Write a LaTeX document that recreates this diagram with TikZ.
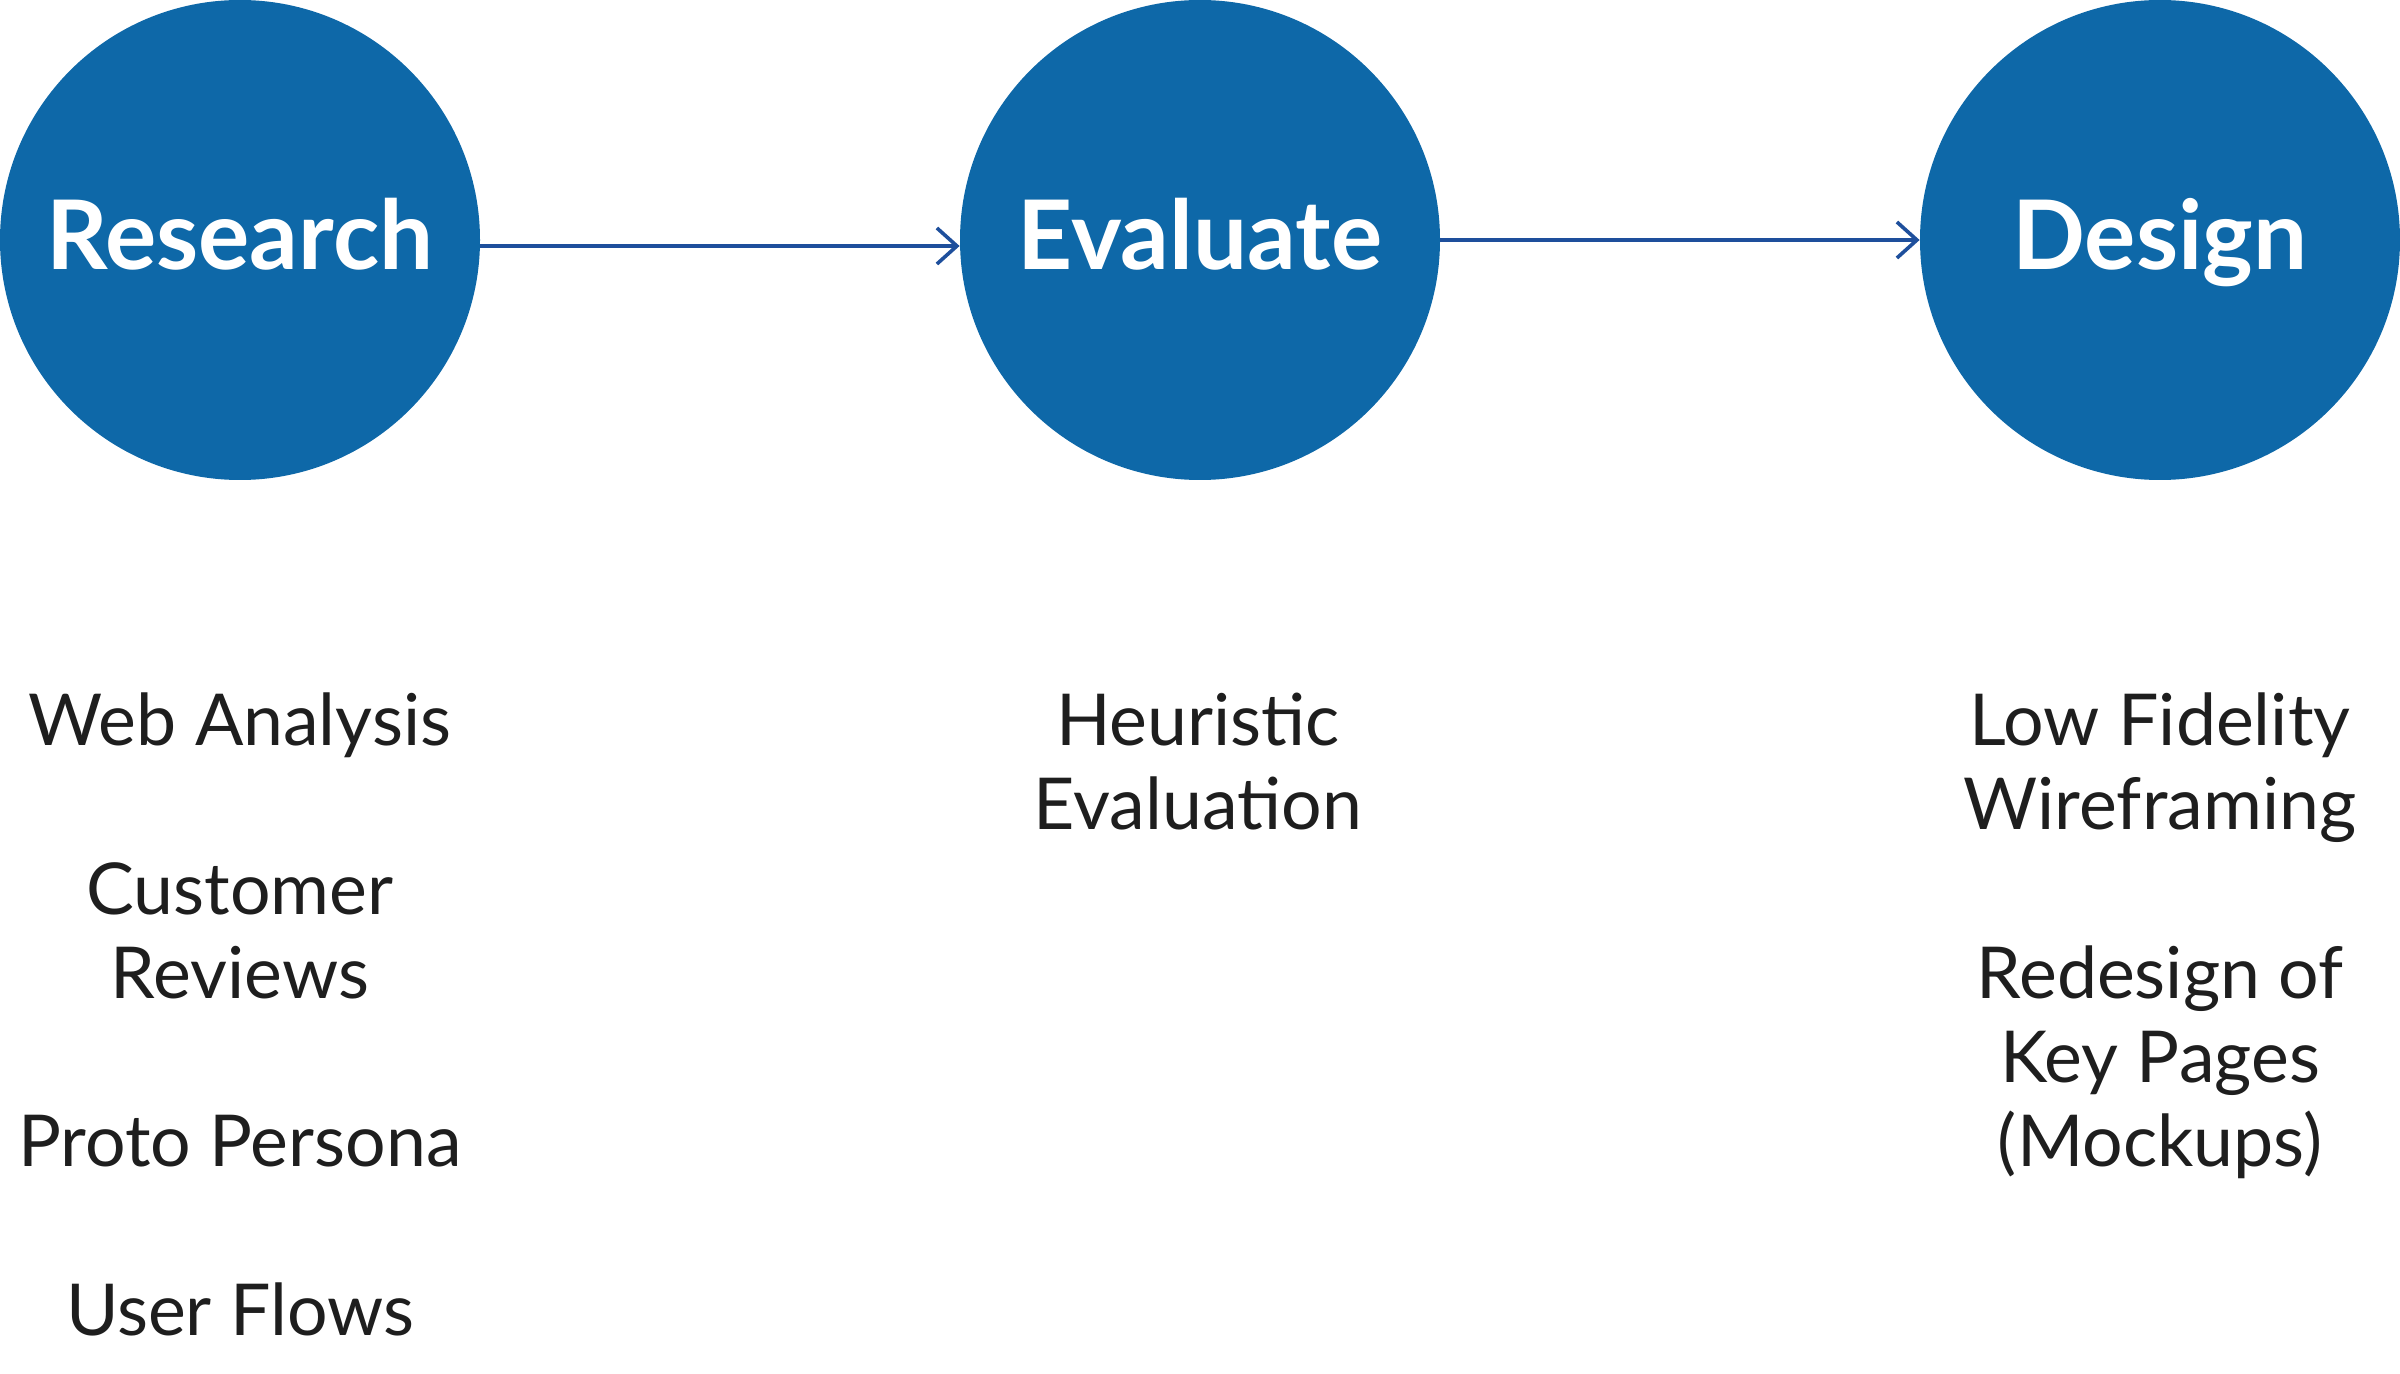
\documentclass[tikz,border=0pt]{standalone}
\usepackage{fontspec}
\setmainfont{Lato}
\usetikzlibrary{arrows.meta}
\definecolor{circblue}{HTML}{0E68A8}
\definecolor{arrblue}{HTML}{1E4F9C}
\definecolor{txt}{HTML}{1E1E1E}
\begin{document}
\begin{tikzpicture}[x=0.5pt,y=-0.5pt,
  stage/.style={circle,fill=circblue,minimum size=240pt,inner sep=0pt,text=white,
    font=\fontsize{48pt}{50pt}\selectfont\bfseries,text height=30pt,text depth=0pt},
  item/.style={anchor=base,text=txt,inner sep=0pt,font=\fontsize{35.8pt}{42pt}\selectfont},
  flow/.style={draw=arrblue,line width=1.8pt,-{Straight Barb[length=10pt,width=18pt,line width=1.8pt]}}]
\useasboundingbox (0,0) rectangle (2400,1374);
\node[stage] (R) at (240,240) {Research};
\node[stage] (E) at (1200,240) {Evaluate};
\node[stage] (D) at (2160,240) {Design};
\draw[flow] ([yshift=-3pt]R.east) -- ([yshift=-3pt]E.west);
\draw[flow] (E.east) -- (D.west);
% Research items
\node[item] (r1) at (240,745) {Web Analysis};
\node[item] (r2a) at (240,914) {Customer};
\node[item] (r2b) at (240,998) {Reviews};
\node[item] (r3) at (240,1166) {Proto Persona};
\node[item] (r4) at (240,1335) {User Flows};
% Evaluate items
\node[item] (e1a) at (1198,745) {Heuristic};
\node[item] (e1b) at (1198,829) {Evaluation};
% Design items
\node[item] (d1a) at (2160,745) {Low Fidelity};
\node[item] (d1b) at (2160,829) {Wireframing};
\node[item] (d2a) at (2160,998) {Redesign of};
\node[item] (d2b) at (2160,1082) {Key Pages};
\node[item] (d2c) at (2160,1166) {(Mockups)};
\end{tikzpicture}
\end{document}
